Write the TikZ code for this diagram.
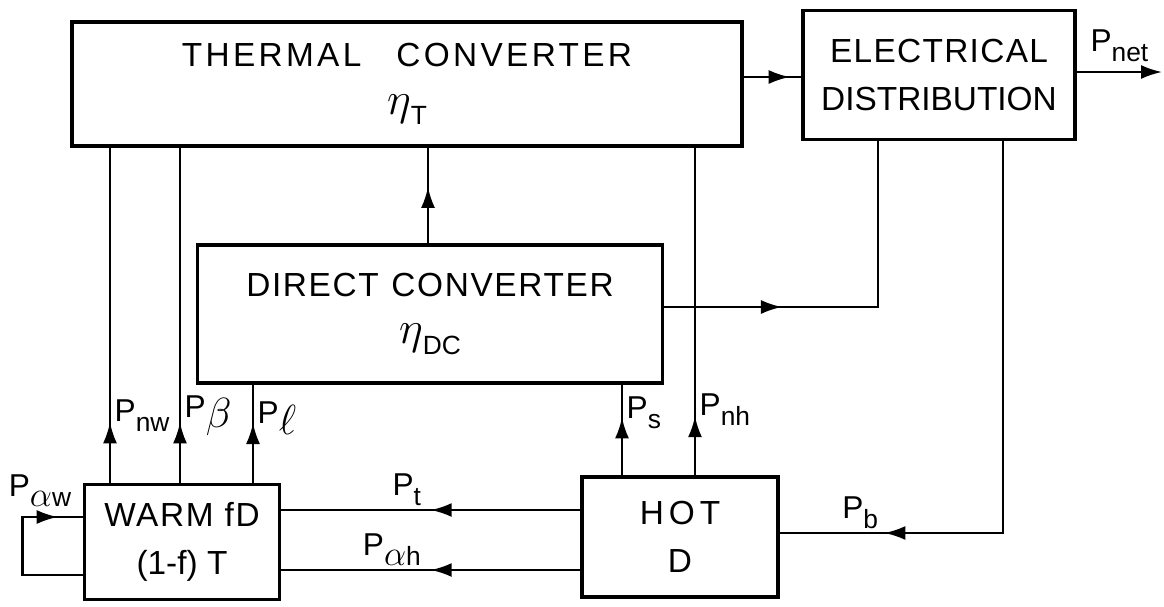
\RequirePackage{fix-cm}
\documentclass[tikz,border=0pt]{standalone}
\usepackage{fontspec}
\setmainfont{Liberation Sans}
\usetikzlibrary{arrows.meta, decorations.markings}
\newcommand{\psub}[1]{\raisebox{-0.6ex}{\fontsize{15}{15}\selectfont #1}}
\newcommand{\grk}[2]{{\fontsize{#1}{#1}\selectfont$#2$}}
\newcommand{\etasub}[1]{\grk{26}{\eta}\psub{#1}}

\begin{document}
\begin{tikzpicture}[
    x=0.02cm, y=-0.02cm,
    blk/.style  = {draw, rectangle, line width=2.2pt, inner sep=0pt,
                   align=center, font=\fontsize{19}{27}\selectfont},
    wire/.style = {line width=1.3pt},
    arr/.style  = {wire, -{Latex[length=4.2mm, width=2.8mm]}},
    flow/.style = {wire, postaction={decorate}, decoration={markings,
                   mark=at position #1 with {\arrow{Latex[length=4.2mm, width=2.8mm]}}}},
    lab/.style  = {font=\fontsize{18}{20}\selectfont, inner sep=2pt}
  ]
    \useasboundingbox (0,0) rectangle (1164,606);

    \node[blk, minimum width=13.4cm, minimum height=2.48cm] (thermal) at (407,84)
          {\addfontfeature{LetterSpace=10}THERMAL\hspace{0.7cm}CONVERTER\\ \etasub{T}};
    \node[blk, minimum width=5.44cm, minimum height=2.58cm]  (elec)    at (939,75)
          {\addfontfeature{LetterSpace=4}ELECTRICAL\\DISTRIBUTION};
    \node[blk, minimum width=9.3cm, minimum height=2.76cm]   (direct)  at (430,314)
          {\addfontfeature{LetterSpace=5}DIRECT\hspace{0.25cm}CONVERTER\\ \etasub{DC}};
    \node[blk, minimum width=3.9cm, minimum height=2.3cm]    (warm)    at (182,542)
          {\addfontfeature{LetterSpace=5}WARM fD\\(1-f) T};
    \node[blk, minimum width=3.92cm, minimum height=2.4cm]   (hot)     at (680,537)
          {\addfontfeature{LetterSpace=15}HOT\\D};

    \coordinate (pnet) at (1162,72);

    \draw[flow=0.8] (thermal.east |- 0,77) -- (elec.west |- 0,77);
    \draw[arr] (elec.east |- pnet) -- node[lab, above=3pt] {P\psub{net}} (pnet);
    \draw[flow=0.59] (direct.north -| 428,0) -- (thermal.south -| 428,0);
    \draw[flow=0.31] (direct.east |- 0,307) -| (elec.south -| 878,0);
    \draw[flow=0.83] (elec.south -| 1003,0)
          |- node[lab, above, pos=0.82] {P\psub{b}} (hot.east |- 0,533);

    \draw[flow=0.5] (hot.west |- 0,510) -- node[lab, above, pos=0.58] {P\psub{t}} (warm.east |- 0,510);
    \draw[flow=0.5] (hot.west |- 0,570) -- node[lab, above, pos=0.63] {P\psub{\grk{20}{\alpha}h}} (warm.east |- 0,570);
    \draw[flow=0.86] (warm.west |- 0,575) -- ++(-60,0) |- (warm.west |- 0,517);
    \node[lab] (alphaw) at (40,491) {P\psub{\grk{20}{\alpha}w}};

    \draw[flow=0.18] (warm.north -| 110,0) -- node[lab, right, pos=0.2] {P\psub{nw}} (thermal.south -| 110,0);
    \draw[flow=0.18] (warm.north -| 180,0) -- node[lab, right, pos=0.2] {P\psub{\grk{24}{\beta}}} (thermal.south -| 180,0);
    \draw[flow=0.61] (warm.north -| 253,0) -- node[lab, right, pos=0.66] {P\psub{\grk{24}{\ell}}} (direct.south -| 253,0);
    \draw[flow=0.64] (hot.north -| 622,0) -- node[lab, right, pos=0.69] {P\psub{s}} (direct.south -| 622,0);
    \draw[flow=0.18] (hot.north -| 695,0) -- node[lab, right, pos=0.2] {P\psub{nh}} (thermal.south -| 695,0);
  \end{tikzpicture}
\end{document}
